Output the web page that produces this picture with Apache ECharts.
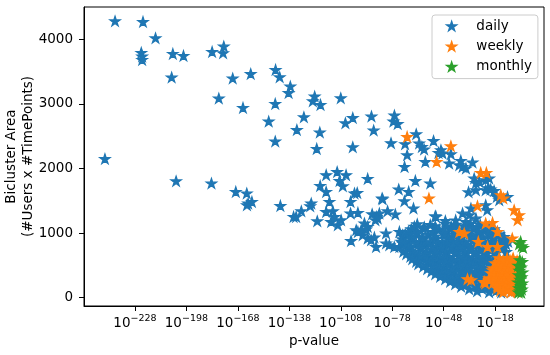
<!DOCTYPE html>
<html><head><meta charset="utf-8">
<script src="https://cdn.jsdelivr.net/npm/echarts@6/dist/echarts.min.js"></script>
<style>html,body{margin:0;padding:0;background:#fff}#c{width:550px;height:355px}</style>
</head><body><div id="c"></div>
<script>
// ---- data (x = log10 of p-value, y = bicluster area) ----
const seriesNames = ['daily', 'weekly', 'monthly'];
const xTickExponents = [-228, -198, -168, -138, -108, -78, -48, -18];
const yTicks = [0, 1000, 2000, 3000, 4000];

const dailyPoints = [
  [-245.5,2150],[-239.6,4283],[-223.3,4272],[-216.0,4020],[-224.3,3793],[-223.8,3737],[-223.8,3684],
  [-205.9,3777],[-199.7,3746],[-206.6,3412],[-183.0,3808],[-176.2,3892],[-176.6,3788],[-171.0,3396],
  [-179.1,3087],[-165.0,2941],[-160.5,3467],[-146.0,3529],[-143.6,3416],[-137.4,3272],[-138.4,3173],
  [-146.2,3003],[-150.0,2730],[-146.2,2421],[-129.5,2797],[-133.6,2600],[-123.2,3117],[-124.3,3045],
  [-119.8,2988],[-120.2,2560],[-122.0,2307],[-108.0,3091],[-105.3,2704],[-101.0,2786],[-101.0,2333],
  [-90.1,2808],[-88.8,2591],[-78.7,2395],[-76.7,2823],[-77.3,2730],[-74.8,2693],
  [-204.0,1806],[-183.4,1771],[-169.2,1641],[-162.8,1616],[-162.0,1461],[-159.8,1486],[-162.7,1435],
  [-143.2,1424],[-135.5,1254],
  [-116.5,1900],[-110.1,1950],[-104.9,1900],[-108.7,1811],[-106.8,1729],[-92.3,1842],[-120.0,1734],
  [-116.5,1641],[-125.2,1461],[-125.8,1419],[-131.0,1342],[-134.0,1254],[-121.7,1187],[-114.6,1486],
  [-116.5,1331],[-112.6,1342],[-111.6,1254],[-113.6,1176],[-109.7,1125],[-107.8,1203],[-102.3,1486],
  [-100.0,1616],[-98.4,1625],[-102.3,1307],[-98.0,1316],[-83.6,1528],[-89.7,1296],[-87.0,1254],
  [-85.5,1307],[-80.7,1342],[-76.2,1291],[-87.8,1203],[-86.5,1229],[-94.2,1152],[-92.3,1099],
  [-96.1,1048],[-99.0,1048],[-102.0,882],[-98.0,1022],[-95.2,971],[-92.3,919],[-90.3,893],[-88.4,935],
  [-87.4,789],[-81.6,997],[-81.6,842],[-79.7,816],[-76.8,789],[-73.8,789],[-71.9,842],[-93.2,1060],
  [-73.8,1022],[-71.9,971],
  [-64.0,2534],[-70.5,2380],[-62.3,2390],[-60.7,2337],[-59.4,2297],[-53.9,2430],[-49.6,2286],
  [-51.0,2245],[-48.7,2235],[-43.8,2224],[-69.3,2209],[-58.7,2105],[-70.8,2028],[-44.8,2080],
  [-38.0,2121],[-38.9,2054],[-37.0,2028],[-35.0,2003],[-31.2,2096],[-30.2,1848],[-29.2,1780],
  [-27.3,1796],[-23.5,1822],[-21.5,1848],[-22.0,1700],[-23.5,1667],[-20.6,1678],[-18.6,1656],
  [-29.2,1667],[-33.5,1636],[-17.0,1563],[-15.6,1512],[-10.8,1563],[-64.5,1811],[-55.8,1771],
  [-74.2,1678],[-68.4,1641],[-70.9,1497],[-83.9,1539],[-65.6,1384],[-23.5,1435],
  [-52.5,1254],[-37.0,1307],[-33.1,1280],[-29.2,1229],[-35.1,1176],[-52.9,1265],[-41.0,1200],
  [-47.0,1190],[-22.6,1358],[-32.1,1384],
  // dense cluster
  [-63.4,1141],[-55.8,1128],[-47.1,1150],[-40.7,1135],[-32.5,1146],[-26.7,1130],
  [-65.1,1102],[-59.3,1095],[-52.9,1108],[-43.6,1100],[-36.0,1110],[-28.5,1098],[-21.5,1104],
  [-66.9,1063],[-59.9,1070],[-50.6,1058],[-44.2,1066],[-37.2,1060],[-30.8,1072],[-23.8,1055],[-18.6,1065],
  [-68.6,1025],[-63.4,1030],[-54.1,1020],[-47.1,1028],[-40.7,1022],[-33.7,1031],[-27.3,1019],[-20.9,1026],[-16.8,1021],
  [-70.4,986],[-64.0,992],[-57.0,980],[-48.2,990],[-41.8,984],[-34.9,995],[-28.5,982],[-22.1,988],[-15.7,985],
  [-71.5,947],[-66.9,952],[-60.5,941],[-52.9,950],[-44.8,944],[-37.8,953],[-31.4,946],[-25.0,940],[-18.6,951],[-12.8,945],
  [-72.1,909],[-66.3,915],[-59.9,905],[-52.9,912],[-45.3,903],[-38.9,910],[-32.5,918],[-25.6,906],[-19.2,912],[-13.3,905],
  [-72.7,870],[-68.0,876],[-62.2,865],[-55.8,873],[-48.8,868],[-42.4,878],[-36.0,864],[-29.0,872],[-22.1,867],[-15.7,874],[-10.4,868],
  [-70.9,831],[-64.0,838],[-58.1,825],[-51.2,835],[-45.9,828],[-40.1,840],[-34.9,826],[-29.0,834],[-22.6,829],[-17.4,836],[-11.6,830],
  [-67.4,793],[-61.0,799],[-54.1,788],[-48.2,796],[-42.4,790],[-37.2,801],[-32.0,787],[-26.1,795],[-19.7,791],[-13.9,798],
  [-68.6,754],[-61.6,760],[-55.2,748],[-49.4,757],[-43.6,750],[-38.4,762],[-32.5,752],[-26.1,758],[-20.3,749],[-14.5,755],
  [-71.5,715],[-65.7,720],[-58.1,709],[-51.7,718],[-46.5,712],[-40.7,721],[-35.4,710],[-29.0,717],[-23.2,713],[-16.8,719],[-11.6,711],
  [-69.8,676],[-64.5,682],[-58.7,670],[-52.9,680],[-47.1,672],[-41.3,684],[-35.4,674],[-29.6,679],[-23.8,671],[-18.0,680],
  [-67.4,638],[-62.2,644],[-55.8,633],[-50.0,641],[-44.8,635],[-38.9,645],[-33.7,632],[-27.9,640],[-22.1,636],
  [-66.3,599],[-59.9,605],[-54.1,594],[-48.2,602],[-42.4,596],[-36.6,604],[-31.4,598],[-25.0,603],[-19.2,595],
  [-64.0,560],[-57.6,566],[-51.7,555],[-45.9,563],[-40.1,557],[-34.9,567],[-29.0,554],[-23.2,561],
  [-62.8,522],[-56.4,528],[-50.6,517],[-44.8,525],[-38.9,519],[-33.1,527],[-27.3,520],[-21.5,524],
  [-59.9,483],[-54.1,489],[-48.2,478],[-43.0,486],[-36.6,480],[-30.8,490],[-25.0,477],[-19.2,484],
  [-57.6,444],[-51.7,450],[-45.9,440],[-40.1,447],[-34.3,442],[-28.5,449],[-22.6,441],
  [-55.2,406],[-49.4,412],[-43.6,401],[-37.8,409],[-32.0,403],[-26.1,413],[-20.3,400],
  [-52.9,367],[-47.1,372],[-40.7,362],[-35.4,370],[-29.6,365],[-23.8,371],[-18.0,364],
  [-50.0,328],[-44.2,334],[-38.4,323],[-32.5,331],[-26.1,325],[-19.7,333],
  [-47.1,289],[-40.7,294],[-34.9,285],[-27.9,292],[-21.5,287],[-15.7,291],
  [-44.2,251],[-37.8,256],[-31.4,246],[-24.4,254],[-18.0,248],[-12.2,255],
  [-41.3,212],[-34.3,217],[-27.3,208],[-20.3,214],[-13.9,210],
  [-37.8,173],[-29.6,178],[-22.1,169],[-15.7,176],[-9.9,171],
  [-33.1,135],[-25.6,140],[-18.6,131],[-12.2,137],
  [-28.5,104],[-17.4,108],
  [-21.5,88],[-14.5,84],[-8.7,90]
];

const weeklyPoints = [
  [-69.3,2492],[-43.8,2348],[-52.1,2105],[-26.4,1935],[-23.1,1935],[-14.7,1590],[-13.2,1539],
  [-56.6,1539],[-28.3,1419],[-6.9,1358],[-4.0,1280],[-4.9,1203],[-23.5,1152],[-19.5,1161],
  [-16.6,1022],[-8.0,919],[-38.9,1022],[-36.0,996],[-27.8,867],[-22.4,789],[-16.6,789],
  [-8.0,584],[-15.7,557],[-10.8,557],[-19.5,429],[-34.1,290],[-32.0,274],[-21.5,274],[-24.4,248],[-23.8,223],
  [-15.7,615],[-11.0,615],[-7.5,615],
  [-13.3,576],[-9.3,580],[-5.2,572],
  [-18.0,537],[-13.3,537],[-8.7,537],
  [-15.7,498],[-11.0,502],[-6.9,495],
  [-19.2,460],[-14.5,460],[-9.9,460],[-6.4,460],
  [-17.4,421],[-12.8,425],[-8.7,418],[-5.2,423],
  [-20.3,382],[-15.7,382],[-11.0,382],[-7.5,382],
  [-18.6,344],[-13.9,348],[-9.3,340],[-5.8,346],
  [-21.5,305],[-16.8,305],[-12.2,305],[-8.7,305],[-5.2,305],
  [-17.4,266],[-12.8,270],[-8.1,262],
  [-19.2,227],[-14.5,227],[-9.9,227],[-6.4,227],
  [-16.8,189],[-11.6,193],[-6.9,186],
  [-16.8,150],[-12.2,150],[-8.7,150],[-5.2,150],
  [-15.1,111],[-10.4,115],[-6.4,108],
  [-13.3,88],[-8.7,88],[-5.2,95]
];

const monthlyPoints = [
  [-3.1,867],[-2.5,800],[-4.0,830],[-1.7,775],
  [-3.6,585],[-2.2,555],[-4.5,500],[-2.9,470],[-3.8,420],[-2.0,395],[-4.2,350],[-2.6,320],
  [-3.4,280],[-4.6,240],[-2.1,225],[-3.0,185],[-4.1,150],[-2.4,130],[-3.5,105],[-4.3,85],[-2.8,82]
];

// ---- styles ----
const COLORS = ['#1f77b4', '#ff7f0e', '#2ca02c'];
const FONT = 'DejaVu Sans';
const STAR = 'path://M50,0 L61.23,34.55 L97.55,34.55 L68.17,55.9 L79.39,90.45 L50,69.1 L20.61,90.45 L31.83,55.9 L2.45,34.55 L38.77,34.55 Z';

const chart = echarts.init(document.getElementById('c'), null, {renderer: 'canvas'});
const allData = [dailyPoints, weeklyPoints, monthlyPoints];

chart.setOption({
  animation: false,
  textStyle: {fontFamily: FONT},
  grid: {left: 84, right: 6, top: 7, bottom: 49, show: true, borderColor: '#000', borderWidth: 1,
         backgroundColor: 'transparent', outerBoundsMode: 'none', containLabel: false},
  legend: {
    orient: 'vertical', left: 432, top: 15,
    padding: [3, 6, 4, 14], itemWidth: 10, itemHeight: 10, itemGap: 4.3,
    backgroundColor: 'rgba(255,255,255,0.8)', borderColor: '#cccccc', borderWidth: 1, borderRadius: 3,
    itemStyle: {borderWidth: 1.3},
    textStyle: {fontSize: 13.5, color: '#000', fontFamily: FONT, lineHeight: 16, padding: [0, 0, 0, 14.7]},
    data: seriesNames.map(n => ({name: n, icon: STAR}))
  },
  xAxis: {
    type: 'value', min: -257.7, max: 10.5,
    name: 'p-value', nameLocation: 'middle', nameGap: 28, nameMoveOverlap: false,
    nameTextStyle: {fontSize: 13.5, color: '#000', fontFamily: FONT},
    axisLine: {show: true, onZero: false, lineStyle: {color: '#000', width: 1}},
    axisTick: {show: true, customValues: xTickExponents, length: 5, lineStyle: {color: '#000', width: 1}},
    axisLabel: {
      customValues: xTickExponents, margin: 8,
      formatter: v => '{b|10}{s|\u2212' + Math.abs(Math.round(v)) + '}',
      rich: {
        b: {fontSize: 13.5, fontFamily: FONT, color: '#000', lineHeight: 16, verticalAlign: 'bottom'},
        s: {fontSize: 9.5, fontFamily: FONT, color: '#000', lineHeight: 16, verticalAlign: 'top'}
      }
    },
    splitLine: {show: false}
  },
  yAxis: {
    type: 'value', min: -128, max: 4500,
    name: 'Bicluster Area\n(#Users x #TimePoints)', nameLocation: 'middle', nameGap: 47, nameRotate: 90,
    nameMoveOverlap: false,
    nameTextStyle: {fontSize: 13.5, color: '#000', fontFamily: FONT, lineHeight: 17, align: 'center'},
    axisLine: {show: true, onZero: false, lineStyle: {color: '#000', width: 1}},
    axisTick: {show: true, customValues: yTicks, length: 5, lineStyle: {color: '#000', width: 1}},
    axisLabel: {customValues: yTicks, margin: 11, fontSize: 13.5, color: '#000', fontFamily: FONT,
                formatter: v => String(v)},
    splitLine: {show: false}
  },
  series: seriesNames.map((n, i) => ({
    name: n, type: 'scatter', data: allData[i],
    symbol: STAR, symbolSize: 10, symbolKeepAspect: true,
    itemStyle: {color: COLORS[i], opacity: 1, borderColor: COLORS[i], borderWidth: 1.3, borderJoin: 'miter'},
    silent: true, z: 2 + i
  }))
});
</script>
</body></html>
